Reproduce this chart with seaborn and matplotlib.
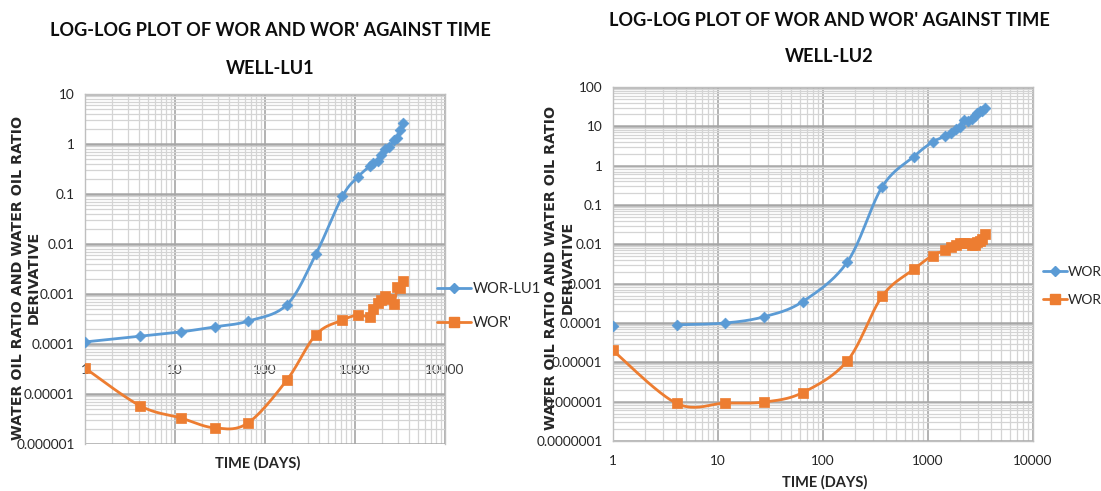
import numpy as np
import pandas as pd
import matplotlib
matplotlib.use("Agg")
import matplotlib.pyplot as plt
import seaborn as sns
from matplotlib.ticker import FixedLocator, FuncFormatter, LogLocator, NullFormatter
from matplotlib.lines import Line2D

# ---------------- data ----------------
t_lu1 = [1, 4.1, 11.7, 27.5, 64, 175, 368, 725, 1080, 1460, 1600, 1800, 1940,
         2150, 2400, 2700, 2950, 3200, 3420]
wor_lu1 = [1.1e-4, 1.43e-4, 1.75e-4, 2.2e-4, 2.85e-4, 6.1e-4, 6.3e-3, 0.09, 0.22,
           0.36, 0.41, 0.46, 0.6, 0.78, 0.88, 1.2, 1.3, 1.9, 2.6]
dwor_lu1 = [3.3e-5, 5.8e-6, 3.3e-6, 2.1e-6, 2.6e-6, 1.9e-5, 1.54e-4, 3.0e-4, 3.8e-4,
            3.5e-4, 4.9e-4, 6.6e-4, 7.5e-4, 9.3e-4, 8.0e-4, 6.3e-4, 1.35e-3, 1.3e-3, 1.86e-3]

t_lu2 = [1, 4.05, 11.7, 27.7, 64, 171, 366, 731, 1105, 1465, 1640, 1830, 2000,
         2200, 2400, 2600, 2800, 2950, 3150, 3300, 3520]
wor_lu2 = [8.2e-5, 9e-5, 1.0e-4, 1.45e-4, 3.5e-4, 3.6e-3, 0.29, 1.7, 4.0, 5.6, 6.9,
           8.5, 9.5, 14.5, 14.0, 15.5, 18, 22, 24, 25, 29]
dwor_lu2 = [2.0e-5, 9e-7, 9.2e-7, 9.8e-7, 1.7e-6, 1.1e-5, 4.8e-4, 2.3e-3, 5.2e-3, 7.0e-3,
            8.5e-3, 9.8e-3, 1.05e-2, 1.08e-2, 1.06e-2, 9.8e-3, 9.6e-3, 1.15e-2, 1.25e-2,
            1.35e-2, 1.8e-2]

x_ticks = [1, 10, 100, 1000, 10000]
y_ticks_lu1 = [1e-6, 1e-5, 1e-4, 1e-3, 1e-2, 1e-1, 1, 10]
y_ticks_lu2 = [1e-7, 1e-6, 1e-5, 1e-4, 1e-3, 1e-2, 1e-1, 1, 10, 100]

title_main = "LOG-LOG PLOT OF WOR AND WOR' AGAINST TIME"
ylabel_text = "WATER OIL RATIO AND WATER OIL RATIO\nDERIVATIVE"

BLUE = "#5B9BD5"
ORANGE = "#ED7D31"

# ---------------- style ----------------
sns.set_style("white")
NARROW = ["Lato", "DejaVu Sans"]
WIDE = ["DejaVu Sans"]
plt.rcParams["font.family"] = NARROW


def smooth(x, y, n=24):
    """Excel-like smoothed path (Bezier / Catmull-Rom) in log-log display space."""
    pts = np.column_stack([np.log10(x), np.log10(y)])
    out = []
    for i in range(len(pts) - 1):
        p0 = pts[i - 1] if i > 0 else pts[i]
        p1, p2 = pts[i], pts[i + 1]
        p3 = pts[i + 2] if i + 2 < len(pts) else pts[i + 1]
        b1 = p1 + (p2 - p0) / 6.0
        b2 = p2 - (p3 - p1) / 6.0
        tt = np.linspace(0, 1, n)[:, None]
        seg = ((1 - tt) ** 3) * p1 + 3 * ((1 - tt) ** 2) * tt * b1 + \
              3 * (1 - tt) * (tt ** 2) * b2 + (tt ** 3) * p2
        out.append(seg if i == 0 else seg[1:])
    s = np.vstack(out)
    return 10 ** s[:, 0], 10 ** s[:, 1]


def fmt(v, pos=None):
    return np.format_float_positional(v, trim="-")


fig = plt.figure(figsize=(11.01, 4.91), dpi=100)
W, H = 1101.0, 491.0


def make_ax(x0, x1, y0, y1):
    return fig.add_axes([x0 / W, 1 - y1 / H, (x1 - x0) / W, (y1 - y0) / H])


def fit_width(txt, target_px):
    r = fig.canvas.get_renderer()
    w = txt.get_window_extent(renderer=r).width
    if w > 0:
        txt.set_fontsize(txt.get_fontsize() * target_px / w)


def style_axes(ax, yticks, ylim):
    ax.set_xscale("log")
    ax.set_yscale("log")
    ax.set_xlim(1, 10000)
    ax.set_ylim(*ylim)
    ax.xaxis.set_major_locator(FixedLocator(x_ticks))
    ax.xaxis.set_major_formatter(FuncFormatter(fmt))
    ax.yaxis.set_major_locator(FixedLocator(yticks))
    ax.yaxis.set_major_formatter(FuncFormatter(fmt))
    ax.xaxis.set_minor_locator(LogLocator(base=10, subs=np.arange(2, 10), numticks=50))
    ax.yaxis.set_minor_locator(LogLocator(base=10, subs=np.arange(2, 10), numticks=50))
    ax.xaxis.set_minor_formatter(NullFormatter())
    ax.yaxis.set_minor_formatter(NullFormatter())
    ax.grid(which="minor", color="#D4D4D4", linewidth=0.9, zorder=0)
    ax.grid(which="major", axis="y", color="#A6A6A6", linewidth=1.8, zorder=0)
    ax.grid(which="major", axis="x", color="#A6A6A6", linewidth=1.2, zorder=0)
    ax.set_axisbelow(True)
    for s in ax.spines.values():
        s.set_color("#BFBFBF")
        s.set_linewidth(1.0)
    ax.tick_params(axis="both", which="major", labelsize=9.8, colors="#404040",
                   length=4, width=0.8, color="#A6A6A6")
    ax.tick_params(axis="both", which="minor", length=0)
    for lab in ax.get_xticklabels() + ax.get_yticklabels():
        lab.set_color("#262626")


def draw_series(ax, t, y, color, marker, msize, line_from=0):
    xs, ys = smooth(t[line_from:], y[line_from:])
    sns.lineplot(x=xs, y=ys, sort=False, estimator=None, color=color,
                 linewidth=2.0, ax=ax, zorder=3)
    sns.scatterplot(x=t, y=y, marker=marker, s=msize, color=color,
                    edgecolor=color, linewidth=0.5, ax=ax, zorder=4)


# ---------------- left chart: WELL-LU1 ----------------
ax1 = make_ax(85, 445, 94, 444)
draw_series(ax1, t_lu1, wor_lu1, BLUE, "D", 30)
draw_series(ax1, t_lu1, dwor_lu1, ORANGE, "s", 55)
style_axes(ax1, y_ticks_lu1, (1e-6, 10))
ax1.spines["bottom"].set_position(("data", 4.6e-5))
ax1.spines["bottom"].set_color("none")
ax1.tick_params(axis="x", which="major", length=0, pad=2)
ax1.set_xlabel("TIME (DAYS)", fontsize=10.5, fontweight="bold", color="#262626")
ax1.xaxis.set_label_coords(0.48, -0.055)
ax1.xaxis.label.set_va("center")
ax1.set_ylabel(ylabel_text, fontsize=10.3, fontweight="bold", family=WIDE,
               color="#262626", linespacing=1.2)
ax1.yaxis.set_label_coords(-0.165, 0.475)
ax1.yaxis.label.set_va("center")

h1 = [Line2D([0], [0], color=BLUE, lw=2.0, marker="D", ms=5.5),
      Line2D([0], [0], color=ORANGE, lw=2.0, marker="s", ms=7.5)]
fig.legend(h1, ["WOR-LU1", "WOR'"], loc="upper left",
           bbox_to_anchor=(430 / W, 1 - 275 / H), frameon=False, fontsize=10.5,
           handlelength=2.3, handletextpad=0.15, labelspacing=1.35, borderpad=0,
           labelcolor="#262626")

tl1 = fig.text(270 / W, 1 - 31 / H, title_main, ha="center", va="center",
               fontsize=13.5, fontweight="bold", color="#0D0D0D")
tl2 = fig.text(270 / W, 1 - 69 / H, "WELL-LU1", ha="center", va="center",
               fontsize=13.5, fontweight="bold", color="#0D0D0D")

# ---------------- right chart: WELL-LU2 ----------------
ax2 = make_ax(613, 1033, 87, 441)
draw_series(ax2, t_lu2, wor_lu2, BLUE, "D", 30, line_from=1)
draw_series(ax2, t_lu2, dwor_lu2, ORANGE, "s", 55)
style_axes(ax2, y_ticks_lu2, (1e-7, 100))
ax2.tick_params(axis="x", which="major", pad=6)
ax2.set_xlabel("TIME (DAYS)", fontsize=10.5, fontweight="bold", color="#262626")
ax2.xaxis.set_label_coords(0.505, -0.118)
ax2.xaxis.label.set_va("center")
ax2.set_ylabel(ylabel_text, fontsize=10.3, fontweight="bold", family=WIDE,
               color="#262626", linespacing=1.2)
ax2.yaxis.set_label_coords(-0.128, 0.49)
ax2.yaxis.label.set_va("center")

h2 = [Line2D([0], [0], color=BLUE, lw=2.0, marker="D", ms=5.5),
      Line2D([0], [0], color=ORANGE, lw=2.0, marker="s", ms=7.5)]
fig.legend(h2, ["WOR", "WOR"], loc="upper left",
           bbox_to_anchor=(1036 / W, 1 - 259 / H), frameon=False, fontsize=10,
           handlelength=1.7, handletextpad=0.1, labelspacing=1.15, borderpad=0,
           labelcolor="#262626")

tr1 = fig.text(829 / W, 1 - 20 / H, title_main, ha="center", va="center",
               fontsize=13.5, fontweight="bold", color="#0D0D0D")
tr2 = fig.text(829 / W, 1 - 56 / H, "WELL-LU2", ha="center", va="center",
               fontsize=13.5, fontweight="bold", color="#0D0D0D")

# keep the title widths close to the reference
fit_width(tl1, 440)
fit_width(tr1, 440)
tl2.set_fontsize(tl1.get_fontsize())
tr2.set_fontsize(tr1.get_fontsize())

fig.savefig("out.png", dpi=100, facecolor="white")
